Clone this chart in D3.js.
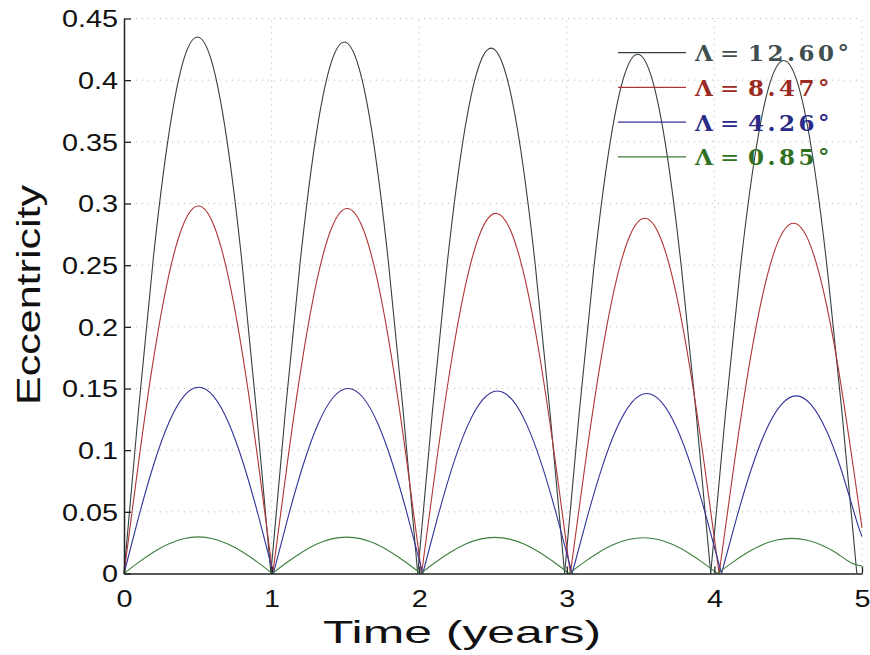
<!DOCTYPE html>
<html><head><meta charset="utf-8">
<script src="https://cdn.jsdelivr.net/npm/d3@7"></script>
<style>body{margin:0;background:#fff}svg{display:block}</style>
</head><body>
<svg id="c" width="870" height="655"></svg>
<script>
const xTicks = [0,1,2,3,4,5];
const yTicks = [0,0.05,0.1,0.15,0.2,0.25,0.3,0.35,0.4,0.45];
const legendValues = ["12.60\u00B0","8.47\u00B0","4.26\u00B0","0.85\u00B0"];
const lineColors = ["#34403f","#b03535","#33339a","#3f7f3f"];
const textColors = ["#3f4f4f","#9a2a22","#2a2a88","#2f6f1f"];

const tBlack = [0,.0995,.199,.2985,.398,.4975,.597,.6965,.796,.8955,.995,
 1.0945,1.194,1.2935,1.393,1.4925,1.592,1.6915,1.791,1.8905,1.99,
 2.0895,2.189,2.2885,2.388,2.4875,2.587,2.6865,2.786,2.8855,2.985,
 3.084,3.183,3.282,3.381,3.48,3.579,3.678,3.777,3.876,3.975,
 4.074,4.173,4.272,4.371,4.47,4.569,4.668,4.767,4.866,4.965];
const eBlack = [0,.134,.256,.352,.414,.435,.414,.352,.256,.134,0,
 .133,.253,.349,.410,.431,.410,.349,.253,.133,0,
 .1316,.2505,.3446,.4051,.426,.4051,.3446,.2505,.1316,0,
 .1301,.2475,.3406,.4004,.421,.4004,.3406,.2475,.1301,0,
 .1285,.2446,.3365,.3956,.416,.3956,.3365,.2446,.1285,0];

const tRed = [0,.1008,.2016,.3024,.4032,.504,.6048,.7056,.8064,.9072,1.008,
 1.1088,1.2096,1.3104,1.4112,1.512,1.6128,1.7136,1.8144,1.9152,2.016,
 2.1168,2.2176,2.3184,2.4192,2.52,2.6208,2.7216,2.8224,2.9232,3.024,
 3.1248,3.2256,3.3264,3.4272,3.528,3.6288,3.7296,3.8304,3.9312,4.032,
 4.1328,4.2336,4.3344,4.4352,4.536,4.6368,4.7376,4.8384,4.9392,5.0];
const eRed = [0,.0921,.1752,.2411,.2834,.298,.2834,.2411,.1752,.0921,0,
 .0915,.1740,.2395,.2815,.296,.2815,.2395,.1740,.0915,0,
 .0902,.1717,.2362,.2777,.292,.2777,.2362,.1717,.0902,0,
 .0890,.1693,.2330,.2739,.288,.2739,.2330,.1693,.0890,0,
 .0878,.1671,.2298,.2701,.284,.2701,.2298,.1671,.0878,.037];

const tBlue = [0,.1012,.2024,.3036,.4048,.506,.6072,.7084,.8096,.9108,1.012,
 1.1132,1.2144,1.3156,1.4168,1.518,1.6192,1.7204,1.8216,1.9228,2.024,
 2.1252,2.2264,2.3276,2.4288,2.53,2.6312,2.7324,2.8336,2.9348,3.036,
 3.1372,3.2384,3.3396,3.4408,3.542,3.6432,3.7444,3.8456,3.9468,4.048,
 4.1492,4.2504,4.3516,4.4528,4.554,4.6552,4.7564,4.8576,4.9588,5.0];
const eBlue = [0,.0467,.0888,.1222,.1436,.151,.1436,.1222,.0888,.0467,0,
 .0464,.0882,.1214,.1427,.150,.1427,.1214,.0882,.0464,0,
 .0457,.0870,.1197,.1407,.148,.1407,.1197,.0870,.0457,0,
 .0451,.0858,.1181,.1388,.146,.1388,.1181,.0858,.0451,0,
 .0445,.0847,.1165,.1369,.144,.1369,.1165,.0847,.0445,.030];

const tGreen = [0,.1005,.201,.3015,.402,.5025,.603,.7035,.804,.9045,1.005,
 1.1055,1.206,1.3065,1.407,1.5075,1.608,1.7085,1.809,1.9095,2.01,
 2.1105,2.211,2.3115,2.412,2.5125,2.613,2.7135,2.814,2.9145,3.015,
 3.1155,3.216,3.3165,3.417,3.5175,3.618,3.7185,3.819,3.9195,4.02,
 4.1205,4.221,4.3215,4.422,4.5225,4.623,4.7235,4.824,4.9245,5.0];
const eGreen = [0,.0092,.0175,.0240,.0282,.0297,.0282,.0240,.0175,.0092,0,
 .0091,.0173,.0239,.0281,.0295,.0281,.0239,.0173,.0091,0,
 .0091,.0172,.0237,.0279,.0293,.0279,.0237,.0172,.0091,0,
 .0090,.0171,.0235,.0276,.029,.0276,.0235,.0171,.0090,0,
 .0088,.0168,.0231,.0271,.0285,.0271,.0231,.0168,.0088,.006];

const seriesT = [tBlack,tRed,tBlue,tGreen];
const seriesE = [eBlack,eRed,eBlue,eGreen];

const W=870,H=655, m={l:124,r:8,t:18.5,b:81.5};
const svg=d3.select("#c");
const x=d3.scaleLinear().domain([0,5]).range([m.l,W-m.r]);
const y=d3.scaleLinear().domain([0,0.45]).range([H-m.b,m.t]);

// grid
const g=svg.append("g");
g.selectAll(".gx").data(xTicks.slice(1)).join("line")
 .attr("x1",d=>x(d)).attr("x2",d=>x(d)).attr("y1",y(0)).attr("y2",y(0.45))
 .attr("stroke","#b5b5b5").attr("stroke-width",1).attr("stroke-dasharray","1,5");
g.selectAll(".gy").data(yTicks.slice(1)).join("line")
 .attr("x1",x(0)).attr("x2",x(5)).attr("y1",d=>y(d)).attr("y2",d=>y(d))
 .attr("stroke","#b5b5b5").attr("stroke-width",1).attr("stroke-dasharray","1,5");

// curves
const line=d3.line().x(d=>x(d[0])).y(d=>y(d[1])).curve(d3.curveNatural);
seriesT.forEach((ts,si)=>{
  const es=seriesE[si];
  const segs=[]; let cur=[];
  ts.forEach((t,i)=>{
    cur.push([t,es[i]]);
    if(es[i]===0 && cur.length>1){segs.push(cur); cur=[[t,es[i]]];}
  });
  if(cur.length>1) segs.push(cur);
  svg.append("g").selectAll("path").data(segs).join("path")
   .attr("d",line).attr("fill","none").attr("stroke",lineColors[si]).attr("stroke-width",1.1);
});

// axes
const font="'Liberation Sans', Arial, sans-serif";
const ax=svg.append("g").attr("transform",`translate(0,${y(0)})`)
 .call(d3.axisBottom(x).tickValues(xTicks).tickFormat(d3.format("d")).tickSizeInner(-7).tickSizeOuter(0).tickPadding(16));
const ay=svg.append("g").attr("transform",`translate(${x(0)},0)`)
 .call(d3.axisLeft(y).tickValues(yTicks).tickFormat(d=>d===0?"0":d3.format("")(d)).tickSizeInner(-7).tickSizeOuter(0).tickPadding(6));
[ax,ay].forEach(a=>{
  a.select(".domain").attr("stroke","#222").attr("stroke-width",1.5);
  a.selectAll(".tick line").attr("stroke","#222").attr("stroke-width",1.3);
  a.selectAll("text").attr("font-family",font).attr("font-size",24).attr("fill","#111");
});
ax.selectAll("text").attr("dy","0.71em");
ay.selectAll("text").attr("dy","0.35em");
svg.selectAll(".tick text").each(function(){
  const w=this.getComputedTextLength();
  d3.select(this).attr("textLength",w*1.2).attr("lengthAdjust","spacingAndGlyphs");
});

// axis titles
svg.append("text").attr("x",462).attr("y",643).attr("text-anchor","middle")
 .attr("font-family",font).attr("font-size",32).attr("fill","#111").text("Time (years)")
 .attr("textLength",278).attr("lengthAdjust","spacingAndGlyphs");
svg.append("text").attr("transform","translate(40,295) rotate(-90)").attr("text-anchor","middle")
 .attr("font-family",font).attr("font-size",34).attr("fill","#111").text("Eccentricity")
 .attr("textLength",220).attr("lengthAdjust","spacingAndGlyphs");

// legend
const lg=svg.append("g");
legendValues.forEach((v,i)=>{
  const yy=52.7+i*34.7;
  lg.append("line").attr("x1",618).attr("x2",686).attr("y1",yy).attr("y2",yy)
   .attr("stroke",lineColors[i]).attr("stroke-width",1.2);
  const t=lg.append("text").attr("y",yy+8.5).attr("font-family","'DejaVu Serif', serif")
   .attr("font-weight","bold").attr("font-size",23).attr("fill",textColors[i]);
  t.append("tspan").attr("x",695).text("\u039B");
  t.append("tspan").attr("x",720).attr("font-weight","normal").text("=");
  t.append("tspan").attr("x",748).attr("letter-spacing",3.5).text(v);
});
</script>
</body></html>
